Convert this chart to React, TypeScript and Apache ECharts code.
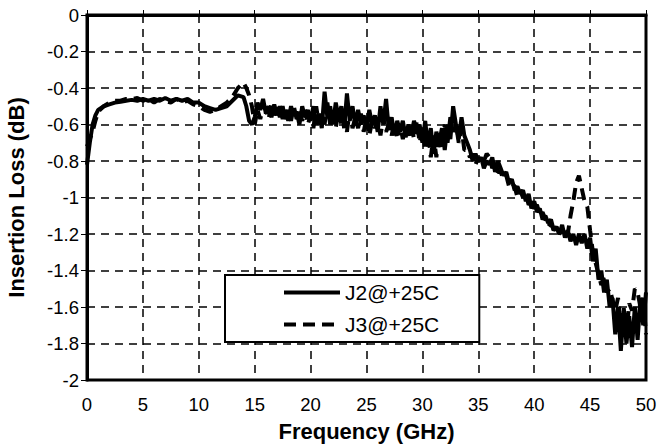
import React, { useEffect, useRef } from "react";
import * as echarts from "echarts";

const freq = [
  0, 0.25, 0.5, 0.75, 1, 1.5, 2, 2.5, 3, 3.5, 4, 4.5, 5, 5.5, 6, 6.5, 7, 7.5, 8, 8.5, 9, 9.5, 10, 10.5, 11, 11.5, 12, 12.5, 13, 13.5,
  14, 14.25, 14.5, 14.75, 15, 15.25, 15.5, 15.75, 16, 16.25, 16.5, 16.75, 17, 17.25, 17.5, 17.75, 18, 18.25, 18.5, 18.75,
  19, 19.25, 19.5, 19.75, 20, 20.25, 20.5, 20.75, 21, 21.25, 21.5, 21.75, 22, 22.25, 22.5, 22.75, 23, 23.25, 23.5, 23.75,
  24, 24.25, 24.5, 24.75, 25, 25.25, 25.5, 25.75, 26, 26.25, 26.5, 26.75, 27, 27.25, 27.5, 27.75, 28, 28.25, 28.5, 28.75,
  29, 29.25, 29.5, 29.75, 30, 30.25, 30.5, 30.75, 31, 31.25, 31.5, 31.75, 32, 32.25, 32.5, 32.75, 33, 33.25, 33.5, 33.75,
  34, 34.25, 34.5, 34.75, 35, 35.25, 35.5, 35.75, 36, 36.25, 36.5, 36.75, 37, 37.25, 37.5, 37.75, 38, 38.25, 38.5, 38.75,
  39, 39.25, 39.5, 39.75, 40, 40.25, 40.5, 40.75, 41, 41.25, 41.5, 41.75, 42, 42.25, 42.5, 42.75, 43, 43.25, 43.5, 43.75,
  44, 44.25, 44.5, 44.75, 45, 45.25, 45.5, 45.75, 46, 46.25, 46.5, 46.75, 47, 47.25, 47.5, 47.75, 48, 48.25, 48.5, 48.75,
  49, 49.25, 49.5, 49.75, 50,
];

const j2 = [
  -0.82, -0.7, -0.6, -0.55, -0.52, -0.5, -0.49, -0.48, -0.475, -0.47, -0.465, -0.47, -0.46, -0.47, -0.46, -0.47, -0.455, -0.47, -0.46, -0.47, -0.46, -0.48, -0.48, -0.5, -0.51, -0.52, -0.51, -0.5, -0.47, -0.44,
  -0.45, -0.5, -0.58, -0.6, -0.56, -0.48, -0.52, -0.46, -0.54, -0.5, -0.56, -0.49, -0.55, -0.5, -0.57, -0.52, -0.58, -0.5, -0.55, -0.53,
  -0.6, -0.5, -0.56, -0.52, -0.58, -0.5, -0.6, -0.54, -0.62, -0.42, -0.56, -0.5, -0.6, -0.48, -0.56, -0.5, -0.62, -0.43, -0.58, -0.5,
  -0.6, -0.52, -0.6, -0.55, -0.62, -0.52, -0.6, -0.55, -0.64, -0.5, -0.6, -0.46, -0.63, -0.56, -0.66, -0.58, -0.64, -0.58, -0.67, -0.6,
  -0.66, -0.58, -0.64, -0.6, -0.7, -0.58, -0.72, -0.62, -0.76, -0.64, -0.7, -0.62, -0.74, -0.6, -0.68, -0.5, -0.6, -0.68, -0.56, -0.66,
  -0.7, -0.74, -0.8, -0.76, -0.8, -0.78, -0.84, -0.8, -0.82, -0.78, -0.86, -0.8, -0.84, -0.88, -0.86, -0.92, -0.9, -0.96, -0.94, -0.98,
  -0.96, -1.02, -0.98, -1.06, -1.02, -1.08, -1.06, -1.12, -1.1, -1.14, -1.12, -1.18, -1.16, -1.2, -1.15, -1.22, -1.18, -1.24, -1.2, -1.26,
  -1.2, -1.25, -1.2, -1.28, -1.22, -1.35, -1.28, -1.45, -1.4, -1.52, -1.45, -1.6, -1.55, -1.75, -1.6, -1.84, -1.62, -1.8, -1.65, -1.82,
  -1.6, -1.78, -1.55, -1.7, -1.52,
];

const j3 = [
  -0.72, -0.68, -0.64, -0.58, -0.53, -0.5, -0.48, -0.47, -0.47, -0.46, -0.46, -0.455, -0.47, -0.46, -0.48, -0.46, -0.47, -0.48, -0.46, -0.48, -0.47, -0.49, -0.5, -0.52, -0.53, -0.52, -0.5, -0.48, -0.45, -0.4,
  -0.37, -0.4, -0.44, -0.5, -0.6, -0.52, -0.57, -0.5, -0.52, -0.57, -0.48, -0.55, -0.5, -0.56, -0.5, -0.58, -0.52, -0.58, -0.5, -0.57,
  -0.53, -0.58, -0.52, -0.6, -0.55, -0.62, -0.5, -0.6, -0.55, -0.6, -0.48, -0.6, -0.54, -0.62, -0.52, -0.6, -0.55, -0.64, -0.52, -0.62,
  -0.56, -0.62, -0.54, -0.64, -0.56, -0.66, -0.58, -0.62, -0.58, -0.66, -0.56, -0.64, -0.6, -0.66, -0.58, -0.68, -0.6, -0.68, -0.62, -0.66,
  -0.6, -0.68, -0.58, -0.7, -0.62, -0.74, -0.64, -0.78, -0.66, -0.78, -0.64, -0.74, -0.6, -0.7, -0.56, -0.64, -0.6, -0.7, -0.62, -0.74,
  -0.74, -0.78, -0.76, -0.82, -0.78, -0.82, -0.8, -0.76, -0.78, -0.84, -0.8, -0.86, -0.86, -0.9, -0.88, -0.94, -0.92, -0.94, -1.0, -0.96,
  -1.0, -0.98, -1.04, -1.02, -1.06, -1.04, -1.1, -1.08, -1.12, -1.16, -1.14, -1.18, -1.16, -1.2, -1.18, -1.22, -1.2, -1.1, -1.02, -0.92,
  -0.88, -0.95, -1.02, -1.05, -1.18, -1.3, -1.36, -1.42, -1.48, -1.44, -1.52, -1.5, -1.56, -1.62, -1.55, -1.7, -1.6, -1.75, -1.58, -1.62,
  -1.5, -1.52, -1.6, -1.55, -1.75,
];

const seriesNames = ["J2@+25C", "J3@+25C"];

export default function App() {
  const ref = useRef<HTMLDivElement>(null);
  useEffect(() => {
    const chart = echarts.init(ref.current!, null, { renderer: "svg" });
    const font = "Liberation Sans";
    const split = { show: true, lineStyle: { color: "#000", type: [8, 6], width: 1.5 } };
    chart.setOption({
      animation: false,
      backgroundColor: "#fff",
      textStyle: { fontFamily: font },
      grid: {
        left: 87, right: 11, top: 15, bottom: 65,
        outerBoundsMode: "none", containLabel: false,
        show: true, borderColor: "#000", borderWidth: 3, backgroundColor: "transparent",
      },
      legend: {
        orient: "vertical",
        left: 225, top: 275,
        backgroundColor: "#fff",
        borderColor: "#000", borderWidth: 2, borderRadius: 0,
        padding: [7, 40, 7, 57],
        itemWidth: 56, itemHeight: 14, itemGap: 11,
        itemStyle: { opacity: 0 },
        lineStyle: { width: 4 },
        textStyle: { fontSize: 21, color: "#000", fontFamily: font },
        data: seriesNames,
      },
      xAxis: {
        type: "value", min: 0, max: 50, interval: 5,
        name: "Frequency (GHz)", nameLocation: "middle", nameGap: 40,
        nameTextStyle: { fontSize: 22, fontWeight: "bold", color: "#000", fontFamily: font },
        axisLine: { show: true, lineStyle: { color: "#000", width: 3 } },
        axisTick: { show: true, inside: true, length: 5, lineStyle: { color: "#000", width: 1 } },
        axisLabel: { fontSize: 18.5, color: "#000", margin: 15, fontFamily: font },
        splitLine: split,
      },
      yAxis: {
        type: "value", min: -2, max: 0, interval: 0.2,
        name: "Insertion Loss (dB)", nameLocation: "middle", nameGap: 60,
        nameTextStyle: { fontSize: 22, fontWeight: "bold", color: "#000", fontFamily: font },
        axisLine: { show: true, lineStyle: { color: "#000", width: 3 } },
        axisTick: { show: true, length: 6, lineStyle: { color: "#000", width: 1 } },
        axisLabel: { fontSize: 18.5, color: "#000", margin: 8, fontFamily: font,
          formatter: (v: number) => String(Math.round(v * 10) / 10) },
        splitLine: split,
      },
      series: [
        {
          name: seriesNames[0], type: "line", symbol: "none",
          data: freq.map((f, i) => [f, j2[i]]),
          lineStyle: { color: "#000", width: 4 },
          itemStyle: { color: "#000" },
        },
        {
          name: seriesNames[1], type: "line", symbol: "none",
          data: freq.map((f, i) => [f, j3[i]]),
          lineStyle: { color: "#000", width: 4, type: [12, 7] },
          itemStyle: { color: "#000" },
        },
      ],
    });
    return () => chart.dispose();
  }, []);
  return <div ref={ref} style={{ width: 657, height: 445, position: "absolute", left: 0, top: 0 }} />;
}
